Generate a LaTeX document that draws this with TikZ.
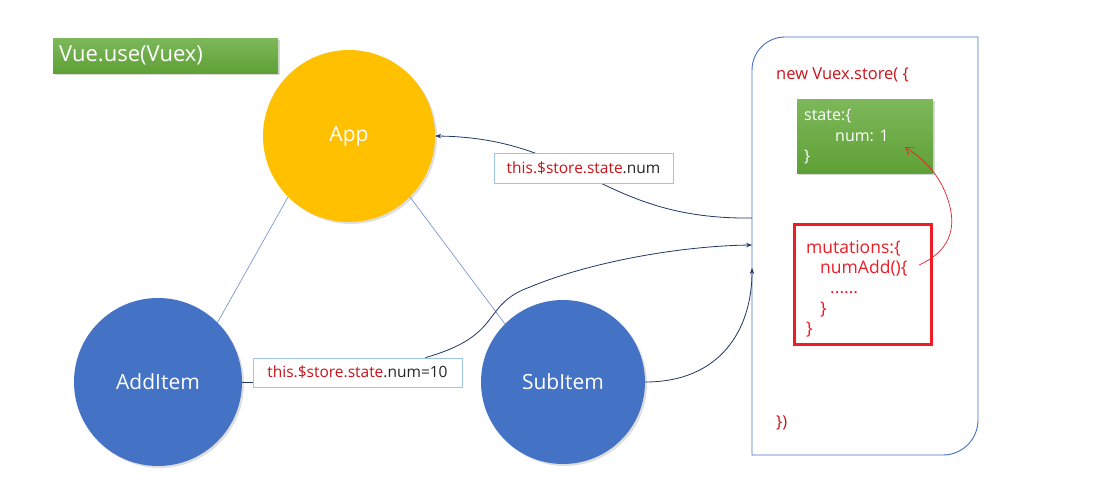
\documentclass[tikz,border=0pt]{standalone}
\usepackage{fontspec}
\setmainfont{Open Sans}
\usetikzlibrary{arrows.meta,shadows,calc}
\definecolor{navy}{HTML}{203864}
\definecolor{vblue}{HTML}{4472C4}
\definecolor{vyellow}{HTML}{FFC000}
\definecolor{lblue}{HTML}{9DC3E6}
\definecolor{dred}{HTML}{C8141C}
\definecolor{bred}{HTML}{EE1C25}
\definecolor{gtop}{HTML}{7DB85B}
\definecolor{gbot}{HTML}{5FA035}
\definecolor{txtgray}{HTML}{262626}
\tikzset{
  bubble/.style={circle, draw=none, text=white, font=\fontsize{21}{25}\selectfont,
    drop shadow={opacity=0.25, shadow xshift=2pt, shadow yshift=-2pt}},
  greenbox/.style={draw=none, top color=gtop, bottom color=gbot, text=white,
    drop shadow={opacity=0.3, shadow xshift=2pt, shadow yshift=-2pt}},
  codelbl/.style={draw=lblue, fill=white, line width=0.8pt, font=\fontsize{15.5}{18}\selectfont, inner sep=0pt},
  tie/.style={draw=vblue!80, line width=0.6pt},
  flow/.style={draw=navy, line width=0.8pt, -{Stealth[length=6pt,width=4.5pt]}},
  codetxt/.style={anchor=base west, inner sep=0pt, font=\fontsize{17.5}{20}\selectfont}
}
\begin{document}
\begin{tikzpicture}[x=1pt,y=-1pt]
\useasboundingbox[fill=white] (0,0) rectangle (1107,494);

% Vue.use(Vuex)
\node[greenbox, minimum width=223pt, minimum height=35pt, anchor=north west,
  font=\fontsize{22}{26}\selectfont, text width=213pt, align=left, inner xsep=6pt] (vueuse) at (53,38) {Vue.use(Vuex)};

% circles
\node[bubble, fill=vyellow, minimum size=172pt] (app) at (349,136) {App};
\node[bubble, fill=vblue, minimum size=168pt] (add) at (158,382) {AddItem};
\node[bubble, fill=vblue, minimum size=164pt] (sub) at (563,382) {SubItem};

% tie lines
\draw[tie] (app.225) -- (add.45);
\draw[tie] (app.-45) -- (sub.135);

% store box
\draw[vblue, line width=0.9pt] (752,455) -- (752,70) arc[start angle=180, end angle=270, radius=33] -- (978,37) -- (978,420) arc[start angle=0, end angle=90, radius=35] -- cycle;
\coordinate (in1) at (752,218);
\coordinate (in2) at (752,245);
\coordinate (in3) at (752,268);

\node[codetxt, text=dred, font=\fontsize{16.5}{19}\selectfont] (newv) at (776,80) {new Vuex.store( \{};
\node[codetxt, text=dred, font=\fontsize{16.5}{19}\selectfont] (endv) at (776,427) {\})};

% state box
\node[greenbox, minimum width=136pt, minimum height=74pt, anchor=north west] (state) at (797,99) {};
\node[codetxt, text=white, font=\fontsize{16}{18}\selectfont] (s1) at (804,121) {state:\{};
\node[codetxt, text=white, font=\fontsize{16}{18}\selectfont] (s2) at (835,142) {num: 1};
\node[codetxt, text=white, font=\fontsize{16}{18}\selectfont] (s3) at (804,162) {\}};

% mutations box
\node[draw=bred, line width=3pt, minimum width=137pt, minimum height=119pt, anchor=north west] (mut) at (792.5,223.5) {};
\begin{scope}[every node/.style={codetxt, text=bred}]
\node (m1) at (806,253) {mutations:\{};
\node (m2) at (820,273) {numAdd()\{};
\node (m3) at (830,293) {......};
\node (m4) at (820,314) {\}};
\node (m5) at (806,334) {\}};
\end{scope}

% red curve
\coordinate (rc1) at (919,265);
\coordinate (rc2) at (905,147);
\draw[bred, line width=0.7pt, -{Straight Barb[length=7pt,width=9pt]}] (rc1) .. controls (948,252) and (958,230) .. (948,200) .. controls (940,175) and (925,160) .. (rc2);

% store -> App
\draw[flow] (in1) .. controls (600,220) and (580,138) .. (app.east);
\node[codelbl, minimum width=179pt, minimum height=30pt] (lab1) at (583.5,168)
  {\textcolor{dred}{this.\$store.state}\textcolor{txtgray}{.num}};

% AddItem -> store
\draw[navy, line width=0.8pt] (add.east) -- (add.east -| 253,0);
\node[codelbl, minimum width=209pt, minimum height=29pt] (lab2) at (357.5,372.5)
  {\textcolor{dred}{this.\$store.state}\textcolor{txtgray}{.num=10}};
\draw[flow] ([xshift=-37pt]lab2.north east) .. controls (505,335) and (480,305) .. (530,287) .. controls (590,262) and (680,246) .. (in2);

% SubItem -> store
\draw[flow] (sub.east) .. controls (720,382) and (752,330) .. (in3);
\end{tikzpicture}
\end{document}
